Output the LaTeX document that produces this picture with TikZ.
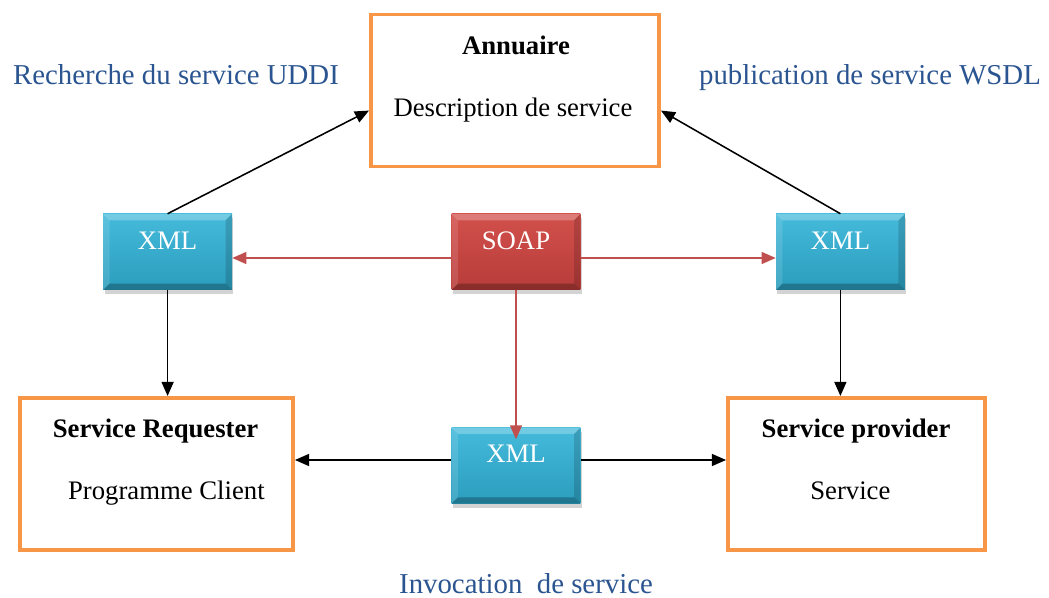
\documentclass[tikz,border=0pt]{standalone}
\usepackage{fontspec}
\setmainfont{Liberation Serif}
\usepackage{tikz}
\usetikzlibrary{arrows.meta,shadows}
\definecolor{orangeb}{HTML}{F79646}
\definecolor{cyanh}{HTML}{45BADB}
\definecolor{cyanb}{HTML}{2B9DBD}
\definecolor{rougeh}{HTML}{D2504C}
\definecolor{rougeb}{HTML}{B73C39}
\definecolor{rougef}{HTML}{C0504D}
\definecolor{bleut}{HTML}{2B5590}
\tikzset{cadre/.style={draw=orangeb,line width=2.8pt,minimum height=3.8cm},
  bloc/.style={minimum width=3.22cm,minimum height=1.9cm,text=white,
    font=\fontsize{19}{22}\selectfont,text height=13pt,text depth=17pt,
    drop shadow={opacity=0.35,shadow xshift=1pt,shadow yshift=-3pt},
    path picture={
      \fill[white,opacity=.25] (path picture bounding box.north west) -- (path picture bounding box.north east)
        -- ([shift={(-4.5pt,-4.5pt)}]path picture bounding box.north east) -- ([shift={(4.5pt,-4.5pt)}]path picture bounding box.north west) -- cycle;
      \fill[white,opacity=.12] (path picture bounding box.north west) -- ([shift={(4.5pt,-4.5pt)}]path picture bounding box.north west)
        -- ([shift={(4.5pt,4.5pt)}]path picture bounding box.south west) -- (path picture bounding box.south west) -- cycle;
      \fill[black,opacity=.15] (path picture bounding box.north east) -- ([shift={(-4.5pt,-4.5pt)}]path picture bounding box.north east)
        -- ([shift={(-4.5pt,4.5pt)}]path picture bounding box.south east) -- (path picture bounding box.south east) -- cycle;
      \fill[black,opacity=.25] (path picture bounding box.south west) -- ([shift={(4.5pt,4.5pt)}]path picture bounding box.south west)
        -- ([shift={(-4.5pt,4.5pt)}]path picture bounding box.south east) -- (path picture bounding box.south east) -- cycle;
    }},
  xml/.style={bloc,top color=cyanh,bottom color=cyanb},
  soap/.style={bloc,top color=rougeh,bottom color=rougeb},
  txt/.style={anchor=base,font=\fontsize{19}{22}\selectfont},
  titre/.style={anchor=base,font=\fontsize{19}{22}\selectfont\bfseries},
  legende/.style={anchor=base,inner sep=1pt,text=bleut,font=\fontsize{20.5}{24}\selectfont},
  fl/.style={-{Triangle[length=10pt,width=8.5pt]},line width=1.1pt},
  flr/.style={fl,draw=rougef}}

\begin{document}
\begin{tikzpicture}
    \useasboundingbox (0,0) rectangle (26.225,14.95);

    \node[cadre,minimum width=7.2cm] (ann) at (12.875,12.6875) {};
    \node[cadre,minimum width=6.825cm] (req) at (3.9125,3.1) {};
    \node[cadre,minimum width=6.425cm] (prov) at (21.4125,3.1) {};

    \node[xml] (xmlA) at (4.19,8.65) {XML};
    \node[soap] (soap) at (12.9,8.65) {SOAP};
    \node[xml] (xmlB) at (21.01,8.65) {XML};
    \node[xml] (xmlC) at (12.9,3.31) {XML};

    \node[titre] (annT) at (12.9,13.575) {Annuaire};
    \node[txt] (desc) at (12.825,12.025) {Description de service};
    \node[titre] (reqT) at (3.89,4.0) {Service Requester};
    \node[txt] (reqD) at (4.16,2.45) {Programme Client};
    \node[titre] (provT) at (21.4,4.0) {Service provider};
    \node[txt] (provD) at (21.26,2.45) {Service};

    \node[legende] (uddi) at (4.4,12.825) {Recherche du service UDDI};
    \node[legende] (wsdl) at (21.75,12.825) {publication de service WSDL};
    \node[legende] (invoc) at (13.15,0.12) {Invocation\ \ de service};

    % annuaire
    \draw [fl] (xmlA.north) to (ann.west |- desc);
    \draw [fl] (xmlB.north) to (ann.east |- desc);
    \draw [fl] (xmlA.south) to (xmlA.south |- req.north);
    \draw [fl] (xmlB.south) to (xmlB.south |- prov.north);
    % soap
    \draw [flr] ([yshift=-0.15cm]soap.west) to ([yshift=-0.15cm]xmlA.east);
    \draw [flr] ([yshift=-0.15cm]soap.east) to ([yshift=-0.15cm]xmlB.west);
    \draw [flr] (soap.south) to ([yshift=-0.3cm]xmlC.north);
    % invocation
    \draw [fl] ([yshift=0.14cm]xmlC.west) to ([yshift=0.14cm]xmlC.west -| req.east);
    \draw [fl] ([yshift=0.14cm]xmlC.east) to ([yshift=0.14cm]xmlC.east -| prov.west);
\end{tikzpicture}
\end{document}
